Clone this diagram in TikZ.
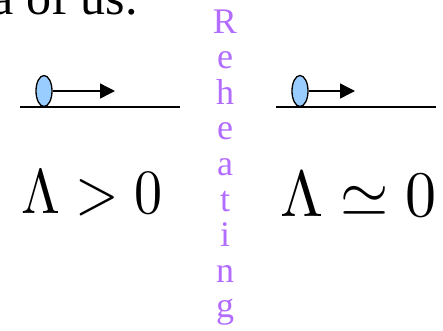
\documentclass[tikz,border=0pt]{standalone}
\usepackage[no-math]{fontspec}
\newfontfamily\timesf{Liberation Serif}
\usetikzlibrary{shapes.geometric,arrows.meta}
\definecolor{rehcol}{RGB}{178,108,255}
\definecolor{ballcol}{RGB}{153,204,255}
\tikzset{
  ball/.style={ellipse, draw=black, fill=ballcol, line width=1.3pt, minimum width=16pt, minimum height=31pt, inner sep=0pt},
  push/.style={-{Triangle[length=15pt,width=15pt]}, line width=1.4pt},
  ground/.style={line width=2pt},
  rehletter/.style={anchor=base, text=rehcol, font=\fontsize{36}{36}\timesf, inner sep=0pt},
  bigmath/.style={anchor=base west, inner sep=0pt}
}
\begin{document}
\begin{tikzpicture}[x=1pt,y=-1pt]
\useasboundingbox (0,0) rectangle (443,330);
\clip (0,0) rectangle (443,330);
% top clipped text
\node[anchor=base east, inner sep=0pt, font=\fontsize{50}{50}\timesf] (top) at (138,14) {a of us.};
% grounds
\coordinate (l1) at (20,107); \coordinate (l2) at (180,107);
\coordinate (r1) at (276,107); \coordinate (r2) at (436,107);
\draw[ground] (l1) -- (l2);
\draw[ground] (r1) -- (r2);
% balls and arrows
\node[ball] (bl) at (44,91) {};
\coordinate (al) at (115,91);
\draw[push] (bl.east) -- (al);
\node[ball] (br) at (300,91) {};
\coordinate (ar) at (355,91);
\draw[push] (br.east) -- (ar);
% Reheating
\foreach \ch [count=\i] in {R,e,h,e,a,t,i,n,g}{
  \node[rehletter] (reh\i) at (225,{33+35.6*(\i-1)}) {\ch};
}
% math
\node[bigmath] (lamL) at (21,213) {\scalebox{5.6}[6.3]{$\Lambda > 0$}};
\node[bigmath] (lamR) at (280,216) {\scalebox{6.2}[6.5]{$\Lambda \simeq 0$}};
\end{tikzpicture}
\end{document}
